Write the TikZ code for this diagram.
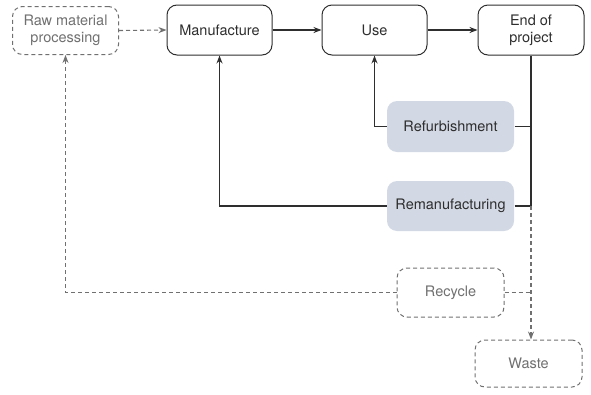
\documentclass[tikz,border=0pt]{standalone}
\usepackage{fontspec}
\setmainfont{TeX Gyre Heros}
\usetikzlibrary{arrows.meta}
\definecolor{ink}{HTML}{2E2E2E}
\definecolor{faint}{HTML}{707070}
\definecolor{refill}{HTML}{D3D9E4}
\begin{document}
\begin{tikzpicture}[x=1pt,y=-1pt,
  box/.style={draw=ink, line width=1pt, rounded corners=10pt, minimum width=105pt, minimum height=50pt, align=center, text=ink, font=\fontsize{14.5}{17}\selectfont, inner sep=0pt},
  dbox/.style={box, draw=faint, dash pattern=on 4pt off 3pt, text=faint},
  gbox/.style={box, draw=none, fill=refill, minimum width=127pt, minimum height=51pt},
  flow/.style={draw=ink, line width=1.6pt},
  dflow/.style={draw=faint, line width=1.1pt, dash pattern=on 4pt off 3pt},
  tip/.style={-{Stealth[length=8pt,width=6pt]}}
]
\useasboundingbox (0,0) rectangle (591,394);
\node[dbox, minimum width=106pt, minimum height=48pt] (raw) at (65.5,30.5) {Raw material\\processing};
\node[box] (manu) at (219.5,30) {Manufacture};
\node[box] (use) at (374.5,30) {Use};
\node[box, minimum width=106pt] (end) at (531,30) {End of\\project};
\node[gbox] (refurb) at (450.5,126.5) {Refurbishment};
\node[gbox, minimum height=50pt] (reman) at (450.5,206) {Remanufacturing};
\node[dbox, minimum width=107pt, minimum height=49pt] (recycle) at (450.5,292.5) {Recycle};
\node[dbox, minimum width=107pt, minimum height=47pt] (waste) at (528.5,363.5) {Waste};
\coordinate (j) at (531,206);
\draw[dflow, tip] (raw.east) -- (manu.west);
\draw[flow, tip] (manu.east) -- (use.west);
\draw[flow, tip] (use.east) -- (end.west);
\draw[flow] (end.south) -- (j);
\draw[flow] (refurb.east) -- (refurb.east -| j);
\draw[flow] (reman.east) -- (j);
\draw[flow, tip] (refurb.west) -| (use.south);
\draw[flow, tip] (reman.west) -| (manu.south);
\draw[dflow, tip] (j) -- (j |- waste.north);
\draw[dflow] (recycle.east) -- (recycle.east -| j);
\draw[dflow, tip] (recycle.west) -| (raw.south);
\end{tikzpicture}
\end{document}
